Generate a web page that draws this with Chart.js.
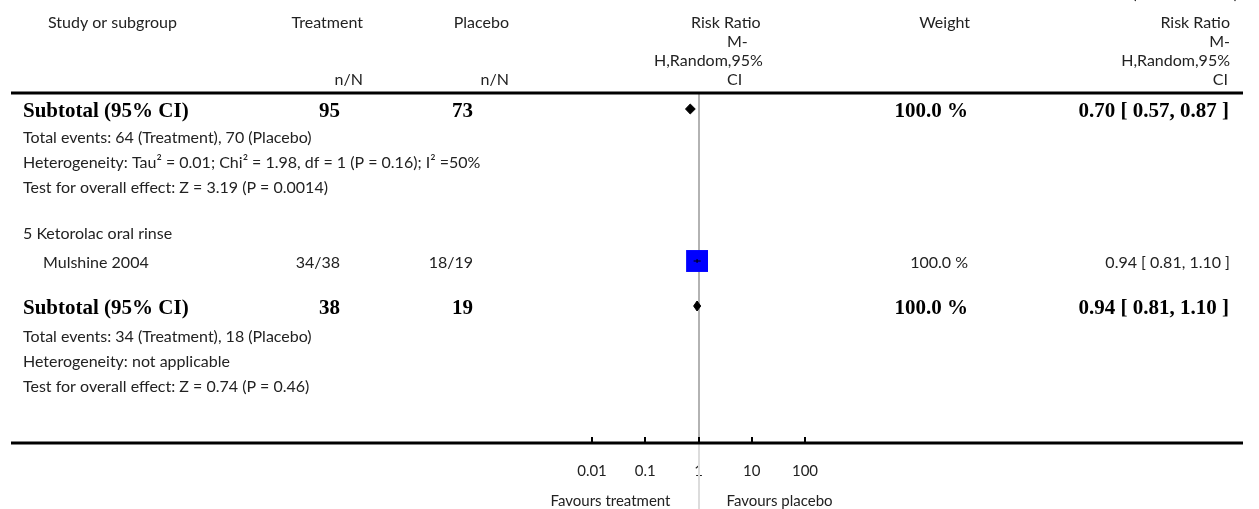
<!DOCTYPE html>
<html>
<head>
<meta charset="utf-8">
<script src="https://cdn.jsdelivr.net/npm/chart.js@4.4.1/dist/chart.umd.min.js"></script>
<style>
  html, body { margin: 0; padding: 0; background: #fff; }
  canvas { display: block; }
</style>
</head>
<body>
<canvas id="forest" width="1259" height="509"></canvas>
<script>
// study level data (subgroup 5)
var studies = ['Mulshine 2004'];
var treatEvents = [34];
var treatTotal = [38];
var placEvents = [18];
var placTotal = [19];
var studyWeight = [100.0];
var studyRR = [0.94];
var studyLow = [0.81];
var studyHigh = [1.10];

// subtotals (end of subgroup 4, subgroup 5)
var subTreatN = [95, 38];
var subPlacN = [73, 19];
var subWeight = [100.0, 100.0];
var subRR = [0.70, 0.94];
var subLow = [0.57, 0.81];
var subHigh = [0.87, 1.10];
var subEvents = ['Total events: 64 (Treatment), 70 (Placebo)', 'Total events: 34 (Treatment), 18 (Placebo)'];
var subHetero = ['Heterogeneity: Tau\u00B2 = 0.01; Chi\u00B2 = 1.98, df = 1 (P = 0.16); I\u00B2 =50%', 'Heterogeneity: not applicable'];
var subTest = ['Test for overall effect: Z = 3.19 (P = 0.0014)', 'Test for overall effect: Z = 0.74 (P = 0.46)'];
var groupName = '5 Ketorolac oral rinse';

// axis
var tickValues = [0.01, 0.1, 1, 10, 100];
var tickLabels = ['0.01', '0.1', '1', '10', '100'];

// row layout, in row units down from the header rule
var rowSub = [0.64, 8.52];
var rowEvents = [1.8, 9.76];
var rowHetero = [2.8, 10.76];
var rowTest = [3.8, 11.76];
var rowGroup = 5.64;
var rowStudy = [6.72];

var REG = '16px Lato';
var BOLD = 'bold 21px "Liberation Serif"';

function fmt1(v) { return v.toFixed(1) + ' %'; }
function fmtCI(e, l, h) { return e.toFixed(2) + ' [ ' + l.toFixed(2) + ', ' + h.toFixed(2) + ' ]'; }

var datasets = [];
// study CI lines, centre marks and boxes
studies.forEach(function (s, i) {
    datasets.push({
        type: 'line',
        data: [{ x: studyLow[i], y: rowStudy[i] }, { x: studyHigh[i], y: rowStudy[i] }],
        borderColor: '#000',
        borderWidth: 1,
        pointRadius: 0,
        order: 0
    });
    datasets.push({
        type: 'scatter',
        data: [{ x: studyRR[i], y: rowStudy[i] }],
        pointStyle: 'line',
        rotation: 90,
        pointRadius: 2,
        borderColor: '#000',
        borderWidth: 1,
        order: 0
    });
    datasets.push({
        type: 'scatter',
        data: [{ x: studyRR[i], y: rowStudy[i] }],
        pointStyle: 'rect',
        pointRadius: 15.5,
        backgroundColor: '#0000ff',
        borderWidth: 0,
        order: 1
    });
});
// subtotal diamonds
subRR.forEach(function (v, i) {
    var y = rowSub[i];
    datasets.push({
        type: 'line',
        data: [
            { x: subLow[i], y: y },
            { x: v, y: y - 0.2 },
            { x: subHigh[i], y: y },
            { x: v, y: y + 0.2 },
            { x: subLow[i], y: y }
        ],
        borderColor: '#000',
        backgroundColor: '#000',
        borderWidth: 1,
        pointRadius: 0,
        tension: 0,
        fill: 'shape',
        order: 0
    });
});

var tablePlugin = {
    id: 'table',
    beforeDatasetsDraw: function (chart) {
        var c = chart.ctx, a = chart.chartArea;
        var x1 = Math.round(chart.scales.x.getPixelForValue(1));
        c.save();
        c.lineWidth = 2;
        c.strokeStyle = '#b3b3b3';
        c.beginPath(); c.moveTo(x1, a.top); c.lineTo(x1, a.bottom); c.stroke();
        c.strokeStyle = '#dcdcdc';
        c.beginPath(); c.moveTo(x1, a.bottom); c.lineTo(x1, chart.height); c.stroke();
        c.restore();
    },
    afterDraw: function (chart) {
        var c = chart.ctx, a = chart.chartArea, sx = chart.scales.x, sy = chart.scales.y;
        function txt(s, x, y, align, font, color) {
            c.font = font || REG;
            c.fillStyle = color || '#222';
            c.textAlign = align || 'left';
            c.textBaseline = 'middle';
            c.fillText(s, x, y);
        }
        c.save();
        // rules
        c.strokeStyle = '#000';
        c.lineWidth = 3;
        c.beginPath(); c.moveTo(11, a.top); c.lineTo(1243, a.top); c.stroke();
        c.beginPath(); c.moveTo(11, a.bottom); c.lineTo(1243, a.bottom); c.stroke();
        c.lineWidth = 2;
        tickValues.forEach(function (t) {
            var px = Math.round(sx.getPixelForValue(t));
            c.beginPath(); c.moveTo(px, a.bottom - 6); c.lineTo(px, a.bottom); c.stroke();
        });

        // header
        txt('(. . . Continued)', 1238, -6, 'right');
        txt('Study or subgroup', 48, 23);
        txt('Treatment', 363, 23, 'right');
        txt('n/N', 363, 80, 'right');
        txt('Placebo', 509, 23, 'right');
        txt('n/N', 509, 80, 'right');
        txt('Risk Ratio', 691, 23);
        txt('M-', 727, 42);
        txt('H,Random,95%', 654, 61);
        txt('CI', 727, 80);
        txt('Weight', 970, 23, 'right');
        txt('Risk Ratio', 1230, 23, 'right');
        txt('M-', 1230, 42, 'right');
        txt('H,Random,95%', 1230, 61, 'right');
        txt('CI', 1228, 80, 'right');

        // subtotal blocks
        subRR.forEach(function (v, i) {
            var y = sy.getPixelForValue(rowSub[i]) + 3;
            txt('Subtotal (95% CI)', 23, y, 'left', BOLD, '#000');
            txt(String(subTreatN[i]), 340, y, 'right', BOLD, '#000');
            txt(String(subPlacN[i]), 473, y, 'right', BOLD, '#000');
            txt(fmt1(subWeight[i]), 968, y, 'right', BOLD, '#000');
            txt(fmtCI(v, subLow[i], subHigh[i]), 1229, y, 'right', BOLD, '#000');
            txt(subEvents[i], 23, sy.getPixelForValue(rowEvents[i]));
            txt(subHetero[i], 23, sy.getPixelForValue(rowHetero[i]));
            txt(subTest[i], 23, sy.getPixelForValue(rowTest[i]));
        });
        txt(groupName, 23, sy.getPixelForValue(rowGroup));
        studies.forEach(function (s, i) {
            var y = sy.getPixelForValue(rowStudy[i]) + 2;
            txt(s, 43, y);
            txt(treatEvents[i] + '/' + treatTotal[i], 340, y, 'right');
            txt(placEvents[i] + '/' + placTotal[i], 473, y, 'right');
            txt(fmt1(studyWeight[i]), 968, y, 'right');
            txt(fmtCI(studyRR[i], studyLow[i], studyHigh[i]), 1230, y, 'right');
        });

        // favours labels
        var x1 = sx.getPixelForValue(1);
        txt('Favours treatment', x1 - 28, 501, 'right', '15px Lato');
        txt('Favours placebo', x1 + 28, 501, 'left', '15px Lato');
        c.restore();
    }
};

var ctx = document.getElementById('forest').getContext('2d');
var forest = new Chart(ctx, {
    type: 'scatter',
    data: { datasets: datasets },
    options: {
        responsive: false,
        animation: false,
        layout: { padding: { left: 592, right: 454, top: 93, bottom: 0 } },
        plugins: { legend: { display: false }, tooltip: { enabled: false } },
        scales: {
            x: {
                type: 'logarithmic',
                min: 0.01,
                max: 100,
                afterBuildTicks: function (axis) {
                    axis.ticks = tickValues.map(function (v) { return { value: v }; });
                },
                afterFit: function (axis) { axis.height = 66; },
                grid: { display: false, drawTicks: false },
                border: { display: false },
                ticks: {
                    autoSkip: false,
                    maxRotation: 0,
                    padding: 19,
                    color: '#222',
                    font: { family: 'Lato', size: 15 },
                    callback: function (v) {
                        var k = tickValues.findIndex(function (t) { return Math.abs(Math.log10(t) - Math.log10(v)) < 1e-6; });
                        return k >= 0 ? tickLabels[k] : '';
                    }
                }
            },
            y: {
                type: 'linear',
                min: 0,
                max: 14,
                reverse: true,
                display: false
            }
        }
    },
    plugins: [tablePlugin]
});
</script>
</body>
</html>
